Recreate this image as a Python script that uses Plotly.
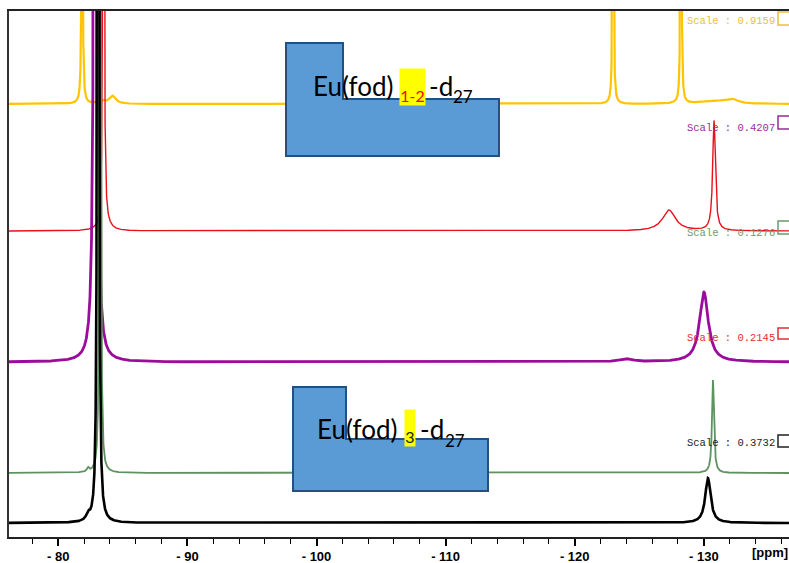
import numpy as np
import plotly.graph_objects as go

# ---------------- data ----------------
# axis (ppm)
x_start, x_end = -76.18, -136.60
tick_vals = [-80, -90, -100, -110, -120, -130]
tick_text = ["- 80", "- 90", "- 100", "- 110", "- 120", "- 130"]

# trace names, vertical offsets (stack baseline), scale labels
trace_names = ["yellow", "red", "purple", "green", "black"]
baselines = [433, 306, 175, 64, 14]
scale_labels = ["Scale : 0.9159", "Scale : 0.4207", "Scale : 0.1276", "Scale : 0.2145", "Scale : 0.3732"]

# peak tables: centre (ppm), height, half width (ppm)
yellow_c = [-81.84, -81.84, -83.3, -84.2, -122.97, -122.97, -128.23, -128.23, -130.8, -132.2]
yellow_h = [4000, 12, 3, 8, 4000, 12, 4000, 12, 3, 4]
yellow_w = [0.011, 0.12, 0.3, 0.3, 0.011, 0.1, 0.011, 0.1, 1.2, 0.5]

red_c = [-83.5, -83.6, -127.3, -130.79]
red_h = [4000, 8, 21, 110]
red_w = [0.02, 0.4, 0.6, 0.12]

purple_c = [-82.88, -130.01, -124.0]
purple_h = [5000, 70, 3]
purple_w = [0.049, 0.4, 0.6]

green_c = [-83.24, -82.3, -130.71]
green_h = [4000, 4, 93]
green_w = [0.022, 0.1, 0.09]

black_c = [-83.08, -82.3, -130.32]
black_h = [4000, 6, 45]
black_w = [0.032, 0.15, 0.25]

# ---------------- build figure ----------------
ppm = np.linspace(x_start, x_end, 12000)

def spectrum(c, h, w, base):
    y = np.full_like(ppm, float(base))
    for ci, hi, wi in zip(c, h, w):
        y += hi * wi**2 / ((ppm - ci) ** 2 + wi**2)
    return y

colors = {"yellow": "#FFC400", "red": "#E8101A", "purple": "#9C0C9C",
          "green": "#5E925E", "black": "#000000"}
widths = {"yellow": 2.2, "red": 1.4, "purple": 2.8, "green": 1.8, "black": 2.6}
peaks = {"yellow": (yellow_c, yellow_h, yellow_w), "red": (red_c, red_h, red_w),
         "purple": (purple_c, purple_h, purple_w), "green": (green_c, green_h, green_w),
         "black": (black_c, black_h, black_w)}

fig = go.Figure()
for name, base in zip(trace_names, baselines):
    c, h, w = peaks[name]
    fig.add_trace(go.Scatter(x=ppm, y=spectrum(c, h, w, base), mode="lines",
                             line=dict(color=colors[name], width=widths[name]),
                             showlegend=False, hoverinfo="skip"))

W, H = 789, 563
L, T, B = 9, 11, 537          # plot area in window pixels
PW, PH = W - L, B - T

def px(x):
    return (x - L) / PW

def py(y):
    return (B - y) / PH

shapes = []
annotations = []

# scale labels with small open boxes
label_colors = ["#E8C040", "#992B99", "#6B9A6B", "#E03030", "#222222"]
label_y = [21, 128, 233, 338, 443]
box_y = [(12, 25), (116, 129), (221, 234), (328, 339), (435, 447)]
for txt, col, ly, (b0, b1) in zip(scale_labels, label_colors, label_y, box_y):
    annotations.append(dict(text=txt, x=px(777), y=py(ly), xref="paper", yref="paper",
                            xanchor="right", yanchor="middle", showarrow=False,
                            font=dict(family="Liberation Mono", size=10.5, color=col)))
    shapes.append(dict(type="rect", xref="paper", yref="paper", x0=px(778), x1=px(795),
                       y0=py(b1), y1=py(b0), line=dict(color=col, width=1.5),
                       fillcolor="rgba(0,0,0,0)", layer="above"))

# L-shaped blue boxes
def lpath(x0, y0, xs, ys, x1, y1):
    pts = [(x0, y0), (xs, y0), (xs, ys), (x1, ys), (x1, y1), (x0, y1)]
    return "M " + " L ".join(f"{px(a):.5f},{py(b):.5f}" for a, b in pts) + " Z"

for (x0, y0, xs, ys, x1, y1) in [(286, 43, 343, 99, 499, 156), (293, 387, 346, 439, 488, 491)]:
    shapes.append(dict(type="path", xref="paper", yref="paper",
                       path=lpath(x0, y0, xs, ys, x1, y1),
                       fillcolor="#5B9BD5", line=dict(color="#24507F", width=2), layer="above"))

lbl_font = "Lato"
def label(xe, yc, sub_txt, hx0, hx1, hy0, hy1, dx, sx, subcolor):
    annotations.append(dict(text="Eu(fod)", x=px(xe), y=py(yc), xref="paper", yref="paper",
                            xanchor="left", yanchor="middle", showarrow=False,
                            font=dict(family=lbl_font, size=26, color="black")))
    annotations.append(dict(text=sub_txt, x=px((hx0 + hx1) / 2), y=py((hy0 + hy1) / 2),
                            xref="paper", yref="paper", xanchor="center", yanchor="middle",
                            showarrow=False, width=hx1 - hx0, height=hy1 - hy0,
                            bgcolor="#FFFF00", valign="bottom", borderpad=0,
                            font=dict(family=lbl_font, size=16, color=subcolor)))
    annotations.append(dict(text="-d", x=px(dx), y=py(yc), xref="paper", yref="paper",
                            xanchor="left", yanchor="middle", showarrow=False,
                            font=dict(family=lbl_font, size=26, color="black")))
    annotations.append(dict(text="27", x=px(sx), y=py(yc + 11), xref="paper", yref="paper",
                            xanchor="left", yanchor="middle", showarrow=False,
                            font=dict(family=lbl_font, size=17, color="black")))

label(311, 86, "1-2", 400, 425, 69, 105, 427, 451, "#FF0000")
label(315, 429, "3", 405, 415, 410, 446, 418, 443, "#222222")

annotations.append(dict(text="[ppm]", x=px(770), y=py(552), xref="paper", yref="paper",
                        xanchor="center", yanchor="middle", showarrow=False,
                        font=dict(family="Liberation Sans", size=13, color="black", weight="bold")))

fig.update_layout(
    width=W, height=H, autosize=False,
    margin=dict(l=L, r=0, t=T, b=H - B, pad=0),
    paper_bgcolor="white", plot_bgcolor="white",
    shapes=shapes, annotations=annotations,
    xaxis=dict(range=[x_start, x_end], tickmode="array", tickvals=tick_vals, ticktext=tick_text,
               ticks="outside", ticklen=7, tickwidth=1.5, tickcolor="black",
               minor=dict(tickmode="linear", tick0=0, dtick=2, ticks="outside", ticklen=5,
                          tickwidth=1.2, tickcolor="black"),
               tickfont=dict(family="Liberation Sans", size=13, color="black", weight="bold"),
               showgrid=False, zeroline=False, showline=True, linecolor="#222", linewidth=1.5,
               mirror=True),
    yaxis=dict(range=[0, PH], showticklabels=False, ticks="", showgrid=False, zeroline=False,
               showline=True, linecolor="#333", linewidth=1.5),
)

fig.write_html("out.html", config={"displayModeBar": False},
               post_script="document.body.style.margin='0';document.body.style.overflow='hidden';")
